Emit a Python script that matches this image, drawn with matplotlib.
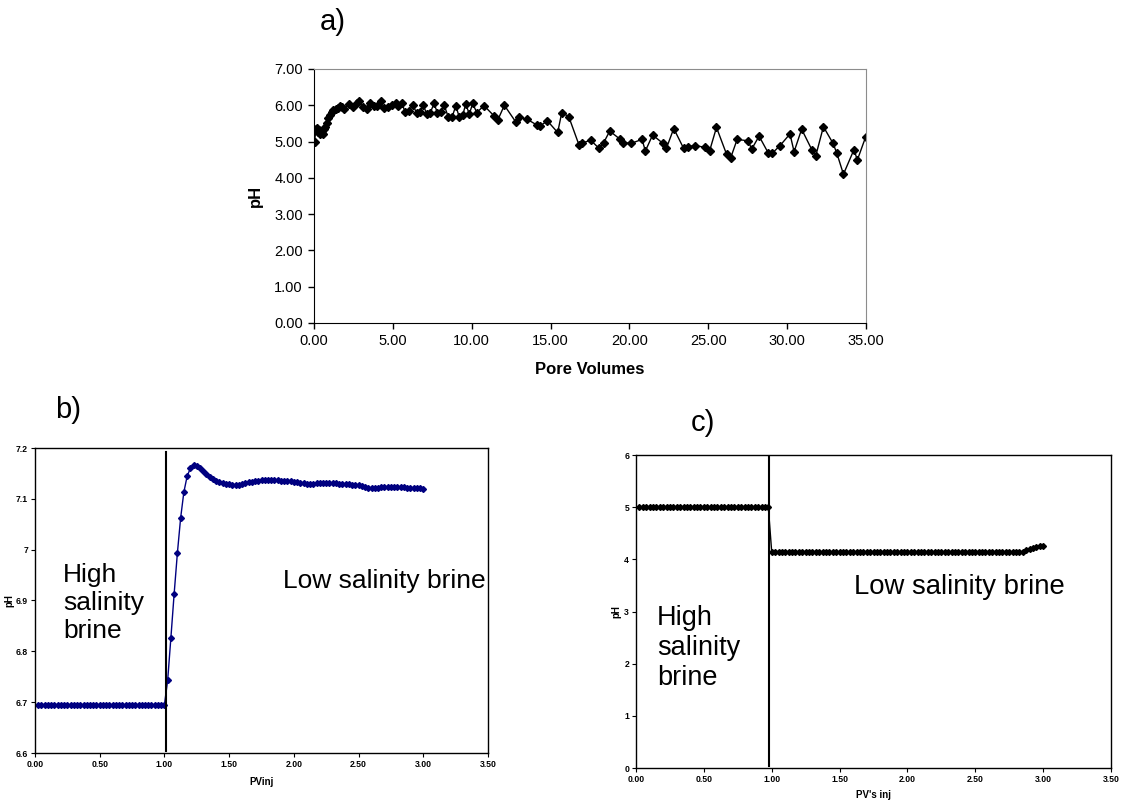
import numpy as np
import matplotlib
matplotlib.use("Agg")
import matplotlib.pyplot as plt

plt.rcParams['font.family'] = ['Liberation Sans', 'DejaVu Sans']

# ---- (a) measured effluent pH vs pore volumes ----
pv_a = [0.00, 0.05, 0.10, 0.18, 0.25, 0.33, 0.40, 0.48, 0.55, 0.63, 0.70,
        0.81, 0.89, 1.01, 1.12, 1.20, 1.39, 1.52, 1.65, 1.76, 1.90,
        2.21, 2.45, 2.70, 2.87, 3.09, 3.34, 3.55, 3.80, 4.01, 4.23,
        4.46, 4.71, 4.93, 5.18, 5.35, 5.58, 5.77, 6.05, 6.26, 6.51,
        6.72, 6.93, 7.15, 7.36, 7.61, 7.82, 8.04, 8.24, 8.52, 8.77,
        8.99, 9.20, 9.43, 9.62, 9.85, 10.06, 10.32, 10.78, 11.41, 11.65,
        12.07, 12.81, 13.00, 13.49, 14.12, 14.33, 14.80, 15.45, 15.71, 16.15,
        16.80, 17.02, 17.54, 18.08, 18.37, 18.75, 19.42, 19.59, 20.10, 20.80,
        21.01, 21.47, 22.13, 22.34, 22.81, 23.44, 23.72, 24.15, 24.82, 25.08,
        25.52, 26.16, 26.41, 26.83, 27.53, 27.75, 28.22, 28.81, 29.06, 29.55,
        30.18, 30.44, 30.92, 31.56, 31.81, 32.30, 32.91, 33.15, 33.57, 34.24,
        34.45, 34.98]
ph_a = [5.30, 5.00, 5.35, 5.38, 5.25, 5.32, 5.20, 5.28, 5.22, 5.35, 5.40,
        5.50, 5.64, 5.73, 5.82, 5.87, 5.90, 5.92, 5.99, 5.96, 5.90,
        6.04, 5.96, 6.05, 6.13, 5.94, 5.89, 6.07, 5.98, 5.98, 6.11,
        5.92, 5.96, 6.02, 6.05, 5.98, 6.05, 5.82, 5.85, 6.02, 5.78,
        5.82, 6.00, 5.76, 5.78, 6.05, 5.80, 5.82, 6.02, 5.67, 5.69,
        5.99, 5.69, 5.73, 6.03, 5.76, 6.05, 5.80, 5.99, 5.71, 5.59,
        6.00, 5.53, 5.67, 5.62, 5.46, 5.43, 5.57, 5.25, 5.80, 5.69,
        4.91, 4.96, 5.04, 4.81, 4.97, 5.29, 5.06, 4.97, 4.95, 5.06,
        4.74, 5.18, 4.95, 4.81, 5.36, 4.81, 4.86, 4.89, 4.84, 4.74,
        5.39, 4.65, 4.54, 5.06, 5.02, 4.79, 5.15, 4.68, 4.68, 4.89,
        5.21, 4.72, 5.34, 4.78, 4.60, 5.41, 4.95, 4.68, 4.10, 4.78,
        4.49, 5.13]
xticks_a = [0, 5, 10, 15, 20, 25, 30, 35]
yticks_a = [0, 1, 2, 3, 4, 5, 6, 7]

# ---- (b) simulated pH, injection sampled every 0.025 PV ----
pv_b = np.arange(1, 121) * 0.025
ph_b = ([6.695] * 40 +
        [6.743, 6.827, 6.913, 6.993, 7.062, 7.113, 7.144, 7.160, 7.166, 7.165,
         7.161, 7.155, 7.149, 7.143, 7.139, 7.136, 7.133, 7.131, 7.130, 7.129,
         7.128, 7.128, 7.128, 7.129, 7.131, 7.133, 7.134, 7.135, 7.136, 7.137,
         7.137, 7.138, 7.138, 7.137, 7.137, 7.136, 7.136, 7.135, 7.135, 7.134,
         7.133, 7.132, 7.131, 7.130, 7.130, 7.130, 7.131, 7.131, 7.132, 7.132,
         7.132, 7.131, 7.131, 7.130, 7.130, 7.129, 7.129, 7.128, 7.128, 7.127,
         7.125, 7.123, 7.122, 7.121, 7.121, 7.122, 7.123, 7.123, 7.124, 7.124,
         7.124, 7.123, 7.123, 7.123, 7.122, 7.122, 7.121, 7.121, 7.121, 7.120])
yticks_b = [6.6, 6.7, 6.8, 6.9, 7.0, 7.1, 7.2]
ylabels_b = ["6.6", "6.7", "6.8", "6.9", "7", "7.1", "7.2"]
switch_b = 1.01

# ---- (c) simulated pH, second case ----
pv_c = np.arange(1, 121) * 0.025
ph_c = ([5.00] * 39 + [4.14] * 74 +
        [4.15, 4.17, 4.19, 4.21, 4.23, 4.25, 4.26])
yticks_c = [0, 1, 2, 3, 4, 5, 6]
switch_c = 0.98

xticks_bc = [0, 0.5, 1.0, 1.5, 2.0, 2.5, 3.0, 3.5]

W, H = 1143, 805
fig = plt.figure(figsize=(W / 100, H / 100), dpi=100)


def box(l, t, r, b):
    return [l / W, 1 - b / H, (r - l) / W, (b - t) / H]


def small_ticks(ax):
    ax.tick_params(direction='out', length=3, width=0.8, labelsize=6.2, pad=2)
    for lab in ax.get_xticklabels() + ax.get_yticklabels():
        lab.set_fontweight('bold')
    for s in ax.spines.values():
        s.set_color('black')
        s.set_linewidth(1.0)


# ----- panel a -----
ax = fig.add_axes(box(314, 69, 866, 323))
ax.plot(pv_a, ph_a, color='black', lw=1.0, marker='D', ms=4.0,
        mfc='black', mec='black')
ax.set_xlim(0, 35)
ax.set_ylim(0, 7)
ax.set_xticks(xticks_a)
ax.set_xticklabels([f"{v:.2f}" for v in xticks_a])
ax.set_yticks(yticks_a)
ax.set_yticklabels([f"{v:.2f}" for v in yticks_a])
ax.tick_params(direction='out', length=4, width=1, labelsize=10.5, pad=4)
for s in ['top', 'right']:
    ax.spines[s].set_color('#8c8c8c')
for s in ['left', 'bottom']:
    ax.spines[s].set_color('black')
ax.set_xlabel('Pore Volumes', fontsize=12, fontweight='bold', labelpad=10)
ax.set_ylabel('pH', fontsize=12, fontweight='bold', labelpad=8)
fig.text(333 / W, 1 - 22 / H, 'a)', fontsize=21, ha='center', va='center')

# ----- panel b -----
ax = fig.add_axes(box(35, 448, 488, 753))
ax.plot(pv_b, ph_b, color='#000080', lw=1.0, marker='D', ms=3.0,
        mfc='#000080', mec='#000080')
ax.plot([switch_b, switch_b], [6.604, 7.192], color='black', lw=1.5)
ax.set_xlim(0, 3.5)
ax.set_ylim(6.6, 7.2)
ax.set_xticks(xticks_bc)
ax.set_xticklabels([f"{v:.2f}" for v in xticks_bc])
ax.set_yticks(yticks_b)
ax.set_yticklabels(ylabels_b)
small_ticks(ax)
ax.set_xlabel('PVinj', fontsize=7, fontweight='bold', labelpad=6)
ax.set_ylabel('pH', fontsize=7, fontweight='bold', labelpad=1)
ax.text(0.062, 0.492, 'High\nsalinity\nbrine', transform=ax.transAxes,
        fontsize=19, ha='left', va='center', linespacing=1.2)
ax.text(0.547, 0.564, 'Low salinity brine', transform=ax.transAxes,
        fontsize=19, ha='left', va='center')
fig.text(68 / W, 1 - 410 / H, 'b)', fontsize=21, ha='center', va='center')

# ----- panel c -----
ax = fig.add_axes(box(636, 455, 1111, 768))
ax.plot(pv_c, ph_c, color='black', lw=1.0, marker='D', ms=3.0,
        mfc='black', mec='black')
ax.plot([switch_c, switch_c], [0.03, 6.0], color='black', lw=1.5)
ax.set_xlim(0, 3.5)
ax.set_ylim(0, 6)
ax.set_xticks(xticks_bc)
ax.set_xticklabels([f"{v:.2f}" for v in xticks_bc])
ax.set_yticks(yticks_c)
small_ticks(ax)
ax.set_xlabel("PV's inj", fontsize=7, fontweight='bold', labelpad=4)
ax.set_ylabel('pH', fontsize=7, fontweight='bold', labelpad=2)
ax.text(0.044, 0.383, 'High\nsalinity\nbrine', transform=ax.transAxes,
        fontsize=19.5, ha='left', va='center', linespacing=1.2)
ax.text(0.46, 0.578, 'Low salinity brine', transform=ax.transAxes,
        fontsize=19.8, ha='left', va='center')
fig.text(703 / W, 1 - 423 / H, 'c)', fontsize=21, ha='center', va='center')

fig.savefig('out.png', dpi=100, facecolor='white')
